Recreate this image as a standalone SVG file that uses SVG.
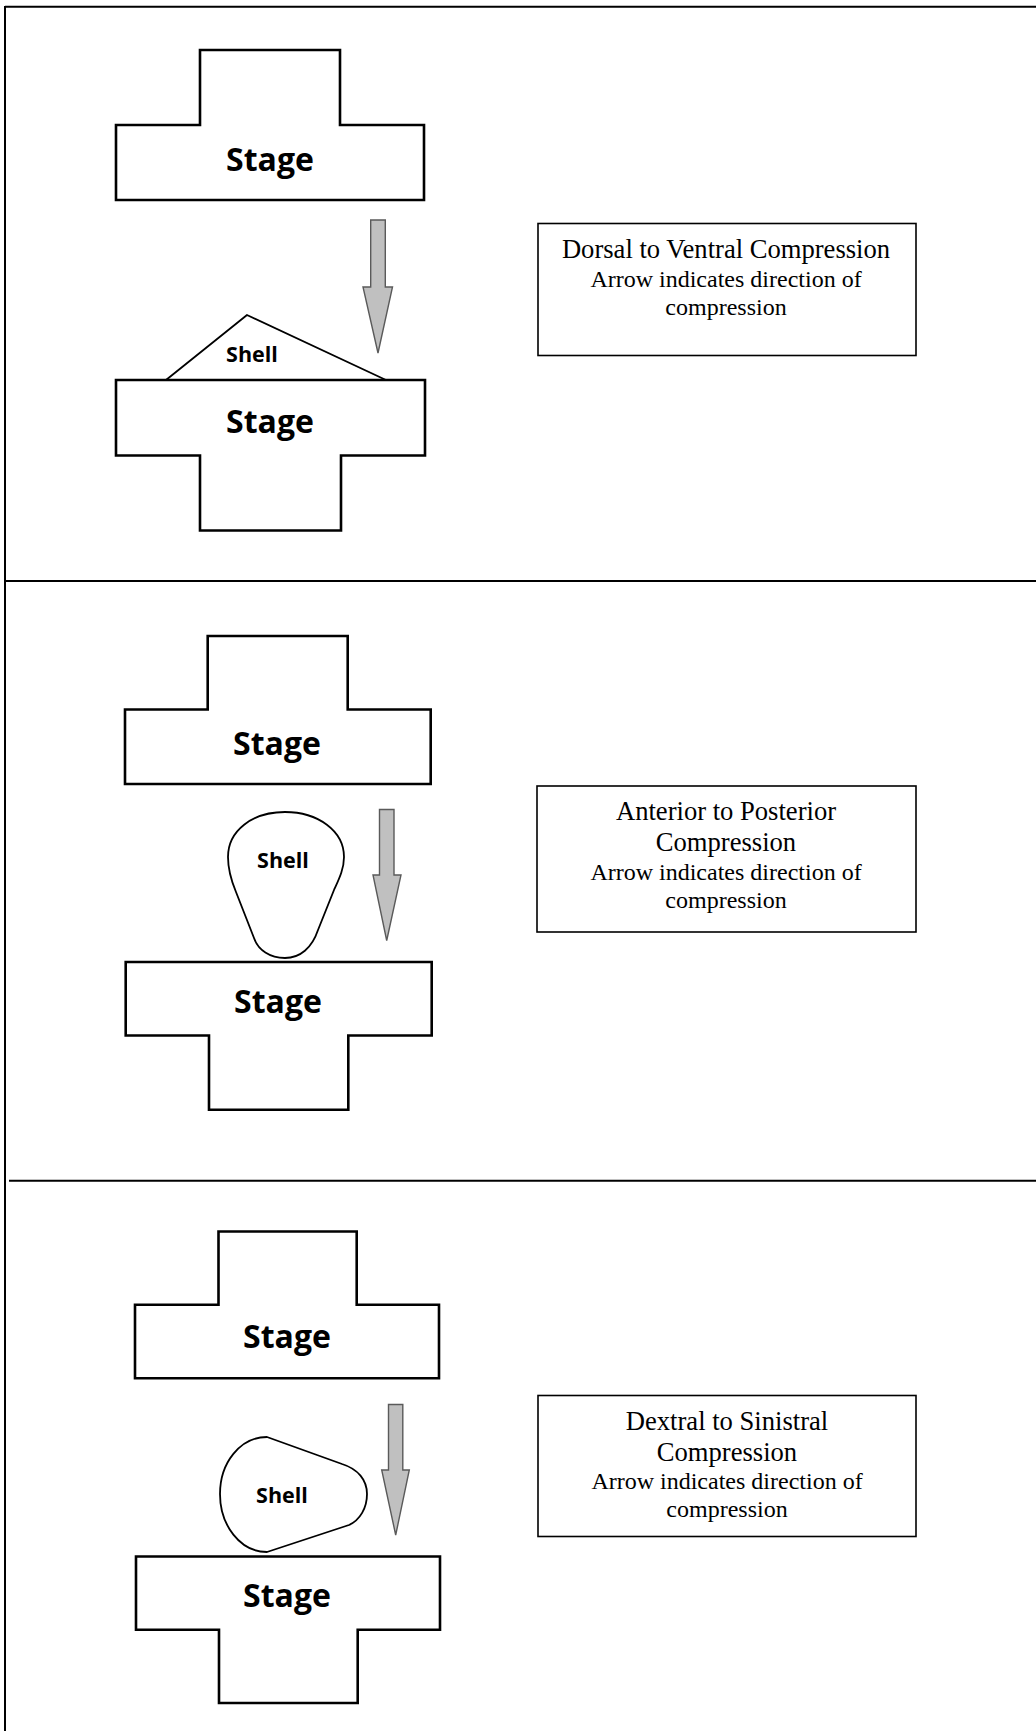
<svg xmlns="http://www.w3.org/2000/svg" width="1036" height="1731" viewBox="0 0 1036 1731">
<style>
.frame{fill:none;stroke:#000;stroke-width:2}
.stage{fill:#fff;stroke:#000;stroke-width:2.6;stroke-linejoin:miter}
.shell{fill:#fff;stroke:#000;stroke-width:1.8;stroke-linejoin:round}
.arrow{fill:#c0c0c0;stroke:#5a5a5a;stroke-width:1.4;stroke-linejoin:miter}
.box{fill:#fff;stroke:#000;stroke-width:1.6}
.stl{font-family:"Open Sans","DejaVu Sans",sans-serif;font-weight:700;font-size:32px;text-anchor:middle;fill:#000}
.shl{font-family:"Open Sans","DejaVu Sans",sans-serif;font-weight:700;font-size:21.5px;text-anchor:middle;fill:#000}
.t1{font-family:"Liberation Serif","Times New Roman",serif;font-size:26.6px;text-anchor:middle;fill:#000}
.t2{font-family:"Liberation Serif","Times New Roman",serif;font-size:24px;text-anchor:middle;fill:#000}
</style>
<rect width="1036" height="1731" fill="#fff"/>
<g id="frame">
<line class="frame" x1="5" y1="6.7" x2="1036" y2="6.7"/>
<line class="frame" x1="5" y1="6" x2="5" y2="1731"/>
<line class="frame" x1="5" y1="581" x2="1036" y2="581"/>
<line class="frame" x1="9" y1="1180.7" x2="1036" y2="1180.7"/>
</g>

<!-- Panel 1 -->
<g id="p1-stage-top">
<path class="stage" d="M200,50 H340 V125 H424 V200 H116 V125 H200 Z"/>
<text class="stl" x="270" y="171">Stage</text>
</g>
<g id="p1-shell">
<path class="shell" d="M166,380 L247,315 L386,380"/>
<text class="shl" x="252" y="362">Shell</text>
</g>
<g id="p1-stage-bottom">
<path class="stage" d="M116,380 H425 V455.5 H341 V530.5 H200 V455.5 H116 Z"/>
<text class="stl" x="270" y="433">Stage</text>
</g>
<g id="p1-label">
<rect class="box" x="538" y="223.5" width="378" height="132"/>
<text class="t1" x="726" y="258">Dorsal to Ventral Compression</text>
<text class="t2" x="726" y="287">Arrow indicates direction of</text>
<text class="t2" x="726" y="315">compression</text>
</g>

<!-- Panel 2 -->
<g id="p2-stage-top">
<path class="stage" d="M207.7,636 H347.7 V709.5 H430.7 V784 H125 V709.5 H207.7 Z"/>
<text class="stl" x="277" y="755">Stage</text>
</g>
<g id="p2-shell">
<path class="shell" d="M285,812 C318,812 344,831 344,857 C344,869 339,879 334,890 L318,930 C312,948 300,958 285,958 C270,958 258,950 254,938 L236,892 C231,880 228,869 228,857 C228,831 252,812 285,812 Z"/>
<text class="shl" x="283" y="868">Shell</text>
</g>
<g id="p2-stage-bottom">
<path class="stage" d="M125.7,962 H431.7 V1035.5 H348.3 V1109.7 H209 V1035.5 H125.7 Z"/>
<text class="stl" x="278" y="1013">Stage</text>
</g>
<g id="p2-label">
<rect class="box" x="537" y="786" width="379" height="146"/>
<text class="t1" x="726" y="819.5">Anterior to Posterior</text>
<text class="t1" x="726" y="850.5">Compression</text>
<text class="t2" x="726" y="880">Arrow indicates direction of</text>
<text class="t2" x="726" y="907.5">compression</text>
</g>

<!-- Panel 3 -->
<g id="p3-stage-top">
<path class="stage" d="M218.5,1231.5 H356.7 V1304.7 H439 V1378.3 H135 V1304.7 H218.5 Z"/>
<text class="stl" x="287" y="1348">Stage</text>
</g>
<g id="p3-shell">
<path class="shell" d="M267,1437 L342,1464 C358,1469 367,1480 367,1494 C367,1508 360,1520 349,1525 L267,1552 C240,1552 220,1525 220,1494 C220,1463 240,1437 267,1437 Z"/>
<text class="shl" x="282" y="1503">Shell</text>
</g>
<g id="p3-stage-bottom">
<path class="stage" d="M136,1556.5 H440 V1629.7 H357.7 V1703 H219 V1629.7 H136 Z"/>
<text class="stl" x="287" y="1607">Stage</text>
</g>
<g id="p3-label">
<rect class="box" x="538" y="1395.5" width="378" height="141"/>
<text class="t1" x="727" y="1429.5">Dextral to Sinistral</text>
<text class="t1" x="727" y="1460.5">Compression</text>
<text class="t2" x="727" y="1489">Arrow indicates direction of</text>
<text class="t2" x="727" y="1516.5">compression</text>
</g>

<!-- Arrows -->
<g id="connectors">
<path class="arrow" d="M370.7,220 H385.3 V287 H392.5 L378,353 L363,287 H370.7 Z"/>
<path class="arrow" d="M379.5,809.5 H394 V875 H401 L386.7,940.5 L373,875 H379.5 Z"/>
<path class="arrow" d="M388.5,1404.5 H402.8 V1470 H409.3 L395.7,1535 L381.7,1470 H388.5 Z"/>
</g>
</svg>
